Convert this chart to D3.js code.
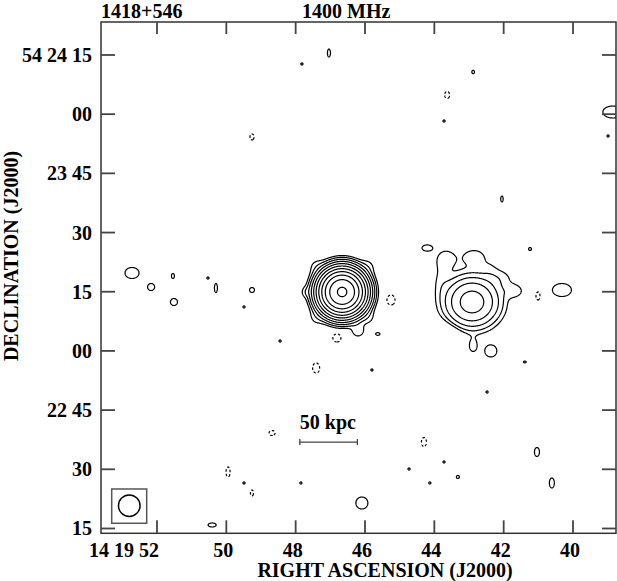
<!DOCTYPE html>
<html><head><meta charset="utf-8">
<script src="https://cdn.jsdelivr.net/npm/d3@7"></script>
<style>
html,body{margin:0;padding:0;background:#fff;}
svg{display:block;}
text{font-family:"Liberation Serif","Times New Roman",serif;font-weight:bold;fill:#000;}
</style></head>
<body>
<svg id="chart" width="617" height="581"></svg>
<script>
// ---------- DATA (RA in seconds of 14h19m, Dec in arcsec above +54°22'00") ----------
const raTicks = [52, 50, 48, 46, 44, 42, 40];
const raTickLabels = ["14 19 52", "50", "48", "46", "44", "42", "40"];
const decTicks = [15, 30, 45, 60, 75, 90, 105, 120, 135];
const decTickLabels = ["15", "30", "22 45", "00", "15", "30", "23 45", "00", "54 24 15"];
const contourLevels = [1, 2, 4, 8, 16, 32, 64, 128, 256, 512, 1024];
const negativeLevels = [1];

// [ra, dec, peak, sigmaRA(arcsec), sigmaDec(arcsec)]
const mainSource = [
  [46.66, 74.94, 1150, 2.46, 2.46],
  [47.41, 81.53, 1.0, 1.52, 1.52],
  [45.91, 81.53, 1.0, 1.52, 1.52],
  [47.41, 68.35, 1.0, 1.52, 1.52],
  [45.91, 68.35, 1.0, 1.52, 1.52],
  [47.70, 74.94, 1.2, 1.0, 1.0],
  [46.20, 65.05, 1.6, 1.27, 1.27]
];
const companionSource = [
  [42.913, 72.40, 22.5, 3.60, 3.32],
  [43.663, 83.30, 1.5, 2.03, 2.03],
  [42.855, 83.81, 1.5, 2.53, 1.77],
  [42.394, 81.02, 0.6, 1.52, 1.52],
  [42.105, 78.48, 1.2, 2.53, 1.77],
  [41.70, 75.19, 1.6, 1.77, 1.27],
  [42.884, 61.25, 1.5, 1.01, 1.52],
  [43.807, 77.98, 1.0, 1.52, 3.04],
  [43.634, 63.53, -1.5, 2.53, 2.53]
];
const noisePositive = [
  [47.04, 135.50, 1.8, 0.35, 0.94],
  [47.82, 132.72, 1.5, 0.3, 0.3],
  [42.88, 130.69, 1.6, 0.35, 0.45],
  [43.72, 118.27, 1.5, 0.3, 0.3],
  [42.05, 98.50, 1.8, 0.28, 0.70],
  [38.85, 120.55, 1.8, 2.34, 1.40],
  [38.99, 114.47, 1.5, 0.3, 0.3],
  [52.72, 79.75, 1.8, 1.64, 1.29],
  [52.17, 76.20, 1.8, 0.82, 0.82],
  [51.54, 78.99, 1.8, 0.35, 0.58],
  [51.51, 72.40, 1.8, 0.82, 0.82],
  [50.53, 78.48, 1.5, 0.3, 0.3],
  [50.30, 75.95, 1.8, 0.35, 1.05],
  [49.26, 75.44, 1.8, 0.58, 0.58],
  [49.49, 71.14, 1.5, 0.3, 0.3],
  [48.45, 62.52, 1.5, 0.3, 0.3],
  [45.63, 64.29, 1.6, 0.55, 0.35],
  [44.21, 86.09, 1.8, 1.17, 0.70],
  [41.24, 85.83, 1.8, 0.35, 0.35],
  [40.32, 75.44, 1.8, 2.22, 1.52],
  [42.37, 59.98, 1.8, 1.39, 1.39],
  [41.39, 57.20, 1.5, 0.4, 0.25],
  [45.80, 55.17, 1.5, 0.3, 0.3],
  [42.48, 49.59, 1.5, 0.3, 0.3],
  [49.49, 26.53, 1.5, 0.3, 0.3],
  [47.85, 26.53, 1.5, 0.3, 0.3],
  [50.41, 15.89, 1.8, 0.94, 0.47],
  [41.04, 34.39, 1.8, 0.58, 1.05],
  [43.72, 31.86, 1.5, 0.3, 0.3],
  [44.73, 30.08, 1.5, 0.3, 0.3],
  [43.32, 28.05, 1.6, 0.4, 0.4],
  [44.13, 26.53, 1.5, 0.3, 0.3],
  [40.61, 26.53, 1.8, 0.58, 1.17],
  [46.09, 21.46, 1.8, 1.40, 1.40]
];
const noiseNegative = [
  [49.26, 114.22, 1.8, 0.47, 0.70],
  [43.63, 124.86, 1.8, 0.58, 0.82],
  [47.41, 55.68, 1.8, 0.82, 1.17],
  [48.68, 39.20, 1.8, 0.70, 0.58],
  [45.25, 72.91, 1.8, 0.94, 1.17],
  [46.81, 63.28, 1.8, 0.94, 0.94],
  [41.01, 73.92, 1.8, 0.47, 0.94],
  [49.95, 29.32, 1.8, 0.47, 1.17],
  [49.26, 24.00, 1.8, 0.35, 0.70],
  [44.30, 36.92, 1.8, 0.58, 1.05]
];
const beam = {ra: 52.80, dec: 20.78, fwhm: 5.47};          // restoring beam (arcsec)
const beamBox = {ra0: 53.306, ra1: 52.297, dec0: 25.01, dec1: 16.32};
const scaleBar = {ra0: 47.88, ra1: 46.22, dec: 36.9, label: "50 kpc"};
const titleLeft = "1418+546", titleRight = "1400 MHz";
const xTitle = "RIGHT ASCENSION (J2000)", yTitle = "DECLINATION (J2000)";

// ---------- LAYOUT ----------
const X0 = 101, X1 = 616, Y0 = 22, Y1 = 533.3;
const x = d3.scaleLinear().domain([53.615, 38.76]).range([X0, X1]);
const y = d3.scaleLinear().domain([143.36, 13.78]).range([Y0, Y1]);
const pxPerArcsec = Math.abs(y(1) - y(0));

const svg = d3.select("#chart");
svg.append("defs").append("clipPath").attr("id", "frame")
  .append("rect").attr("x", X0).attr("y", Y0).attr("width", X1 - X0).attr("height", Y1 - Y0);

// ---------- FIELD ----------
const step = 0.5;
const nx = Math.ceil((X1 - X0) / step) + 1, ny = Math.ceil((Y1 - Y0) / step) + 1;
function field(comps) {
  const v = new Float64Array(nx * ny);
  for (const [ra, dec, amp, sx, sy] of comps) {
    const cx = x(ra), cy = y(dec), sxp = sx * pxPerArcsec, syp = sy * pxPerArcsec;
    const R = Math.sqrt(2 * Math.log(Math.max(Math.abs(amp), 0.5) * 200));
    const i0 = Math.max(0, Math.floor((cx - R * sxp - X0) / step)), i1 = Math.min(nx - 1, Math.ceil((cx + R * sxp - X0) / step));
    const j0 = Math.max(0, Math.floor((cy - R * syp - Y0) / step)), j1 = Math.min(ny - 1, Math.ceil((cy + R * syp - Y0) / step));
    for (let j = j0; j <= j1; j++) {
      const dy = (Y0 + j * step - cy) / syp;
      for (let i = i0; i <= i1; i++) {
        const dx = (X0 + i * step - cx) / sxp;
        v[j * nx + i] += amp * Math.exp(-0.5 * (dx * dx + dy * dy));
      }
    }
  }
  return v;
}
const posField = field(mainSource.concat(companionSource, noisePositive));
const negField = field(noiseNegative);
const proj = d3.geoTransform({point(px, py) { this.stream.point(X0 + (px - 0.5) * step, Y0 + (py - 0.5) * step); }});
const path = d3.geoPath(proj);

const g = svg.append("g").attr("clip-path", "url(#frame)");
g.selectAll("path.pos").data(d3.contours().size([nx, ny]).thresholds(contourLevels)(posField))
  .join("path").attr("class", "pos").attr("d", path)
  .attr("fill", "none").attr("stroke", "#000").attr("stroke-width", 1.2).attr("stroke-linejoin", "round");
g.selectAll("path.neg").data(d3.contours().size([nx, ny]).thresholds(negativeLevels)(negField))
  .join("path").attr("class", "neg").attr("d", path)
  .attr("fill", "none").attr("stroke", "#000").attr("stroke-width", 1.2).attr("stroke-dasharray", "2.5,2");

// ---------- FRAME & TICKS ----------
const tickColor = "#444";
svg.append("rect").attr("x", X0).attr("y", Y0).attr("width", X1 - X0).attr("height", Y1 - Y0)
  .attr("fill", "none").attr("stroke", "#333").attr("stroke-width", 1.5);
svg.selectAll("line.bt").data(raTicks).join("line").attr("class", "bt")
  .attr("x1", d => x(d)).attr("x2", d => x(d)).attr("y1", Y1).attr("y2", Y1 - 13)
  .attr("stroke", tickColor).attr("stroke-width", 1.8);
svg.selectAll("line.tt").data(raTicks).join("line").attr("class", "tt")
  .attr("x1", d => x(d)).attr("x2", d => x(d)).attr("y1", Y0).attr("y2", Y0 + 12)
  .attr("stroke", tickColor).attr("stroke-width", 1.8);
svg.selectAll("line.lt").data(decTicks).join("line").attr("class", "lt")
  .attr("x1", X0).attr("x2", X0 + 14).attr("y1", d => y(d)).attr("y2", d => y(d))
  .attr("stroke", tickColor).attr("stroke-width", 1.8);
svg.selectAll("line.rt").data(decTicks).join("line").attr("class", "rt")
  .attr("x1", X1).attr("x2", X1 - 14).attr("y1", d => y(d)).attr("y2", d => y(d))
  .attr("stroke", tickColor).attr("stroke-width", 1.8);

svg.selectAll("text.bl").data(raTicks).join("text").attr("class", "bl")
  .attr("x", (d, i) => i === 0 ? x(d) + 2 : x(d) - 3).attr("y", 557)
  .attr("text-anchor", (d, i) => i === 0 ? "end" : "middle").attr("font-size", 20)
  .text((d, i) => raTickLabels[i]);
svg.selectAll("text.ll").data(decTicks).join("text").attr("class", "ll")
  .attr("x", 92).attr("y", d => y(d) + 7).attr("text-anchor", "end").attr("font-size", 20)
  .text((d, i) => decTickLabels[i]);

svg.append("text").attr("x", 101).attr("y", 18).attr("font-size", 20).text(titleLeft);
svg.append("text").attr("x", 302).attr("y", 18).attr("font-size", 20).text(titleRight);
svg.append("text").attr("x", 385).attr("y", 577).attr("text-anchor", "middle").attr("font-size", 20).text(xTitle);
svg.append("text").attr("transform", "translate(18,256) rotate(-90)").attr("text-anchor", "middle")
  .attr("font-size", 20).text(yTitle);

// ---------- BEAM ----------
svg.append("rect").attr("x", x(beamBox.ra0)).attr("y", y(beamBox.dec0))
  .attr("width", x(beamBox.ra1) - x(beamBox.ra0)).attr("height", y(beamBox.dec1) - y(beamBox.dec0))
  .attr("fill", "none").attr("stroke", "#555").attr("stroke-width", 1.5);
svg.append("circle").attr("cx", x(beam.ra)).attr("cy", y(beam.dec)).attr("r", beam.fwhm / 2 * pxPerArcsec)
  .attr("fill", "none").attr("stroke", "#000").attr("stroke-width", 1.5);

// ---------- SCALE BAR ----------
const sb = svg.append("g").attr("stroke", "#444").attr("stroke-width", 1.3);
sb.append("line").attr("x1", x(scaleBar.ra0)).attr("x2", x(scaleBar.ra1)).attr("y1", y(scaleBar.dec)).attr("y2", y(scaleBar.dec));
sb.append("line").attr("x1", x(scaleBar.ra0)).attr("x2", x(scaleBar.ra0)).attr("y1", y(scaleBar.dec) - 3).attr("y2", y(scaleBar.dec) + 3);
sb.append("line").attr("x1", x(scaleBar.ra1)).attr("x2", x(scaleBar.ra1)).attr("y1", y(scaleBar.dec) - 3).attr("y2", y(scaleBar.dec) + 3);
svg.append("text").attr("x", x(scaleBar.ra0)).attr("y", y(scaleBar.dec) - 13).attr("font-size", 20).text(scaleBar.label);
</script>
</body></html>
